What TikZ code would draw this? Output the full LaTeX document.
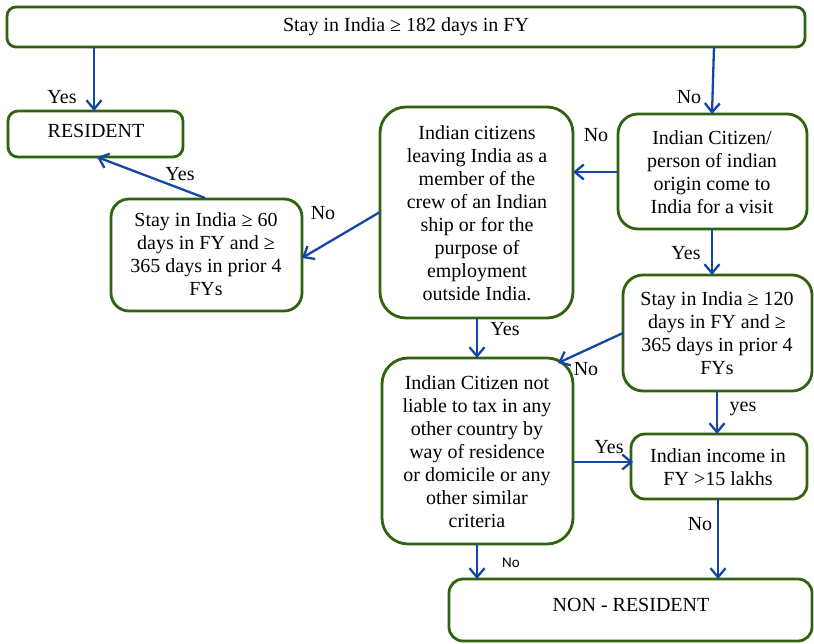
\documentclass[tikz,border=0pt]{standalone}
\usepackage{fontspec}
\setmainfont{Liberation Serif}
\newfontfamily\labelsans{Carlito}
\usetikzlibrary{arrows.meta}
\definecolor{boxgreen}{RGB}{48,98,16}
\definecolor{arrowblue}{RGB}{20,70,168}
\tikzset{
  flowbox/.style={draw=boxgreen, line width=2.8pt, fill=white, inner sep=0pt},
  boxtext/.style={align=center, font=\fontsize{20}{23}\selectfont},
  flow/.style={draw=arrowblue, line width=2.3pt, -{Straight Barb[length=9pt,width=15pt,line width=2.3pt]}},
  lbl/.style={font=\fontsize{20}{23}\selectfont, inner sep=0pt},
  smalllbl/.style={font=\labelsans\fontsize{15}{18}\selectfont, inner sep=0pt}
}
\begin{document}
\begin{tikzpicture}[x=1pt,y=-1pt]
\useasboundingbox (0,0) rectangle (814,643);

% boxes (corners in picture units)
\draw[flowbox, rounded corners=9pt]  (7,7) rectangle (805,47);
\draw[flowbox, rounded corners=10pt] (8,111) rectangle (183,157);
\draw[flowbox, rounded corners=18pt] (111,199) rectangle (302,311);
\draw[flowbox, rounded corners=26pt] (380,107) rectangle (573,318);
\draw[flowbox, rounded corners=20pt] (618,114) rectangle (807,229);
\draw[flowbox, rounded corners=20pt] (623,275) rectangle (812,391);
\draw[flowbox, rounded corners=26pt] (382,358) rectangle (573,544);
\draw[flowbox, rounded corners=14pt] (631,434) rectangle (807,499);
\draw[flowbox, rounded corners=14pt] (449,579) rectangle (812,641);

% box texts
\node[boxtext] (top) at (406,27) {Stay in India ≥ 182 days in FY};
\node[boxtext] (res) at (96,131) {RESIDENT};
\node[boxtext] (s60) at (206,254) {Stay in India ≥ 60\\days in FY and ≥\\365 days in prior 4\\FYs};
\node[boxtext] (crew) at (477,213) {Indian citizens\\leaving India as a\\member of the\\crew of an Indian\\ship or for the\\purpose of\\employment\\outside India.};
\node[boxtext] (visit) at (712,172) {Indian Citizen/\\person of indian\\origin come to\\India for a visit};
\node[boxtext] (s120) at (717,333) {Stay in India ≥ 120\\days in FY and ≥\\365 days in prior 4\\FYs};
\node[boxtext] (liab) at (477,452) {Indian Citizen not\\liable to tax in any\\other country by\\way of residence\\or domicile or any\\other similar\\criteria};
\node[boxtext] (inc) at (718,467) {Indian income in\\FY >15 lakhs};
\node[boxtext] (nr) at (631,605) {NON - RESIDENT};

% anchor points on the box borders
\coordinate (topL) at (94,47);   \coordinate (resT) at (94,111);
\coordinate (topR) at (714,47);  \coordinate (visitT) at (712,114);
\coordinate (visitL) at (618,172); \coordinate (crewR) at (573,172);
\coordinate (crewL) at (380,212); \coordinate (s60R) at (302,258);
\coordinate (s60T) at (205,198); \coordinate (resB) at (97,157);
\coordinate (visitB) at (712,229); \coordinate (s120T) at (712,275);
\coordinate (crewB) at (477,318); \coordinate (liabT) at (477,358);
\coordinate (s120L) at (623,333); \coordinate (liabC) at (558,363);
\coordinate (s120B) at (717,391); \coordinate (incT) at (717,434);
\coordinate (liabR) at (573,462); \coordinate (incL) at (633,462);
\coordinate (incB) at (718,499); \coordinate (nrT1) at (718,579);
\coordinate (liabB) at (477,544); \coordinate (nrT2) at (477,579);

% connectors
\draw[flow] (topL) -- (resT);
\draw[flow] (topR) -- (visitT);
\draw[flow] (visitL) -- (crewR);
\draw[flow] (crewL) -- (s60R);
\draw[flow] (s60T) -- (resB);
\draw[flow] (visitB) -- (s120T);
\draw[flow] (crewB) -- (liabT);
\draw[flow] (s120L) -- (liabC);
\draw[flow] (s120B) -- (incT);
\draw[flow] (liabR) -- (incL);
\draw[flow] (incB) -- (nrT1);
\draw[flow] (liabB) -- (nrT2);

% connector labels
\node[lbl] (l1) at (62,97) {Yes};
\node[lbl] (l2) at (689,97) {No};
\node[lbl] (l3) at (596,135) {No};
\node[lbl] (l4) at (323,213) {No};
\node[lbl] (l5) at (180,174) {Yes};
\node[lbl] (l6) at (686,253) {Yes};
\node[lbl] (l7) at (505,329) {Yes};
\node[lbl] (l8) at (586,369) {No};
\node[lbl] (l9) at (743,409) {yes};
\node[lbl] (l10) at (609,447) {Yes};
\node[lbl] (l11) at (700,524) {No};
\node[smalllbl] (l12) at (511,563) {No};
\end{tikzpicture}
\end{document}
